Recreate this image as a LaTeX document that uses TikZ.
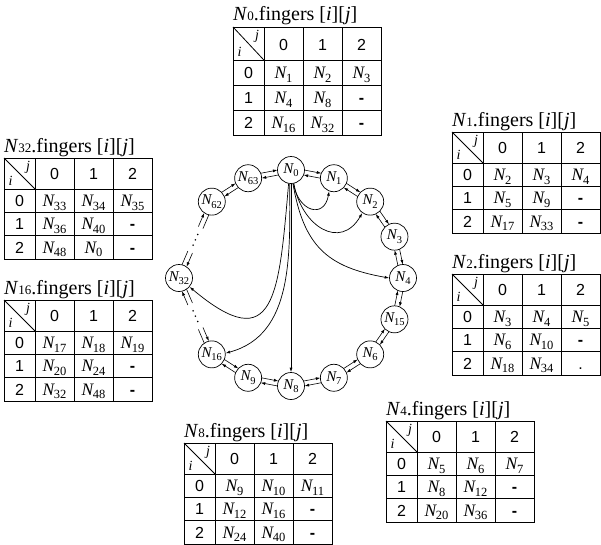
\documentclass[tikz,border=0pt]{standalone}
\usepackage{fontspec}
\setmainfont{Liberation Serif}
\setsansfont{Liberation Sans}
\usetikzlibrary{calc,arrows.meta}
\newcommand\NN[1]{\textit{N}\kern-0.06em\raisebox{-0.2em}{\fontsize{12.5}{13}\selectfont #1}}
\newcommand\RN[1]{\textit{N}\kern-0.06em\raisebox{-0.22em}{\fontsize{10.5}{11}\selectfont #1}}
\newcommand\fingertab[9]{%
  \node[ttl] (T#1t) at (0,-6) {\textit{N}{\fontsize{13}{13}\selectfont #1}.fingers [\textit{i}][\textit{j}]};
  \draw[tabline] (0,0) rectangle (148,101);
  \foreach \yy in {31,54.3,77.6} \draw[tabline] (0,\yy) -- (148,\yy);
  \foreach \xx in {31,70,109} \draw[tabline] (\xx,0) -- (\xx,101);
  \draw[tabline] (0,0) -- (31,31);
  \node[idx] (T#1j) at (24,9) {j};
  \node[idx] (T#1i) at (6.5,23) {i};
  \node[hdr] (T#1h0) at (50.5,21.5) {0};
  \node[hdr] (T#1h1) at (89.5,21.5) {1};
  \node[hdr] (T#1h2) at (128.5,21.5) {2};
  \node[hdr] (T#1r0) at (15.5,48.5) {0};
  \node[hdr] (T#1r1) at (15.5,71.8) {1};
  \node[hdr] (T#1r2) at (15.5,95.1) {2};
  \node[cell] (T#1a) at (50.5,48.5) {\NN{#2}};
  \node[cell] (T#1b) at (89.5,48.5) {\NN{#3}};
  \node[cell] (T#1c) at (128.5,48.5) {\NN{#4}};
  \node[cell] (T#1d) at (50.5,71.8) {\NN{#5}};
  \node[cell] (T#1e) at (89.5,71.8) {\NN{#6}};
  \node[hdr] (T#1f) at (128.5,71.8) {\textbf{-}};
  \node[cell] (T#1g) at (50.5,95.1) {\NN{#7}};
  \node[cell] (T#1k) at (89.5,95.1) {\NN{#8}};
  \node[hdr] (T#1l) at (128.5,95.1) {#9};
}
\newcommand\ringlink[2]{%
  \draw[ringarrow] ($(#1)!2.5pt!90:(#2)$) -- ($(#2)!2.5pt!-90:(#1)$);
  \draw[ringarrow] ($(#2)!2.5pt!90:(#1)$) -- ($(#1)!2.5pt!-90:(#2)$);}
\newcommand\ringgap[2]{%
  \coordinate (ga) at ($(#1)!2.5pt!90:(#2)$);
  \coordinate (gb) at ($(#2)!2.5pt!-90:(#1)$);
  \draw[ringline, shorten <=13.3pt] (ga) -- ($(ga)!0.34!(gb)$);
  \draw[ringarrow, shorten <=0pt] ($(ga)!0.66!(gb)$) -- (gb);
  \coordinate (gc) at ($(#2)!2.5pt!90:(#1)$);
  \coordinate (gd) at ($(#1)!2.5pt!-90:(#2)$);
  \draw[ringline, shorten <=13.3pt] (gc) -- ($(gc)!0.34!(gd)$);
  \draw[ringarrow, shorten <=0pt] ($(gc)!0.66!(gd)$) -- (gd);
  \foreach \t in {0.43,0.5,0.57} \fill ($(#1)!\t!(#2)$) circle (0.9pt);}
\begin{document}
\begin{tikzpicture}[x=1pt,y=-1pt,
  tabline/.style={line width=0.8pt},
  hdr/.style={font=\fontsize{16}{16}\sffamily, inner sep=0, anchor=base},
  cell/.style={font=\fontsize{17.5}{17.5}\selectfont, inner sep=0, anchor=base},
  idx/.style={font=\fontsize{14}{14}\selectfont\itshape, inner sep=0},
  ttl/.style={font=\fontsize{20}{20}\selectfont, inner sep=0, anchor=base west},
  ringnode/.style={circle, draw, line width=0.7pt, minimum size=27pt, inner sep=0, font=\fontsize{15}{15}\selectfont},
  ringline/.style={line width=0.6pt},
  ringarrow/.style={line width=0.6pt, -{Latex[length=4.5pt,width=3pt]}, shorten <=13.3pt, shorten >=13.3pt},
  chord/.style={line width=0.7pt, -{Latex[length=4.5pt,width=3pt]}},
]
\useasboundingbox (0,0) rectangle (601,544);
% tables
\begin{scope}[shift={(233,27)}, yscale=1.07]\fingertab{0}{1}{2}{3}{4}{8}{16}{32}{\textbf{-}}\end{scope}
\begin{scope}[shift={(452,132)}]\fingertab{1}{2}{3}{4}{5}{9}{17}{33}{\textbf{-}}\end{scope}
\begin{scope}[shift={(452,274)}]\fingertab{2}{3}{4}{5}{6}{10}{18}{34}{.}\end{scope}
\begin{scope}[shift={(4,158)}]\fingertab{32}{33}{34}{35}{36}{40}{48}{0}{\textbf{-}}\end{scope}
\begin{scope}[shift={(4,300)}]\fingertab{16}{17}{18}{19}{20}{24}{32}{48}{\textbf{-}}\end{scope}
\begin{scope}[shift={(386,421)}]\fingertab{4}{5}{6}{7}{8}{12}{20}{36}{\textbf{-}}\end{scope}
\begin{scope}[shift={(184,443)}]\fingertab{8}{9}{10}{11}{12}{16}{24}{40}{\textbf{-}}\end{scope}
% ring nodes
\foreach \nm/\lab/\ang in {n0/0/0, n1/1/22.5, n2/2/45, n3/3/67.5, n4/4/90, n15/15/112.5, n6/6/135, n7/7/157.5, n8/8/180, n9/9/202.5, n16/16/225, n32/32/270, n62/62/315, n63/63/337.5}
  \node[ringnode] (\nm) at ({291+112*sin(\ang)},{278-108*cos(\ang)}) {\RN{\lab}};
% ring links
\ringlink{n0}{n1}\ringlink{n1}{n2}\ringlink{n2}{n3}\ringlink{n3}{n4}
\ringlink{n4}{n15}\ringlink{n15}{n6}\ringlink{n6}{n7}\ringlink{n7}{n8}
\ringlink{n8}{n9}\ringlink{n9}{n16}\ringlink{n62}{n63}\ringlink{n63}{n0}
\ringgap{n16}{n32}\ringgap{n32}{n62}
% fingers of N0
\draw[chord] (n0.-80) to[out=-80,in=-100,looseness=2] (n1.-110);
\draw[chord] (n0.-78) to[out=-80,in=-120,looseness=1.5] (n2.-125);
\draw[chord] (n0.-82) to[out=-80,in=170,looseness=1.2] (n4.180);
\draw[chord] (n0) -- (n8);
\draw[chord] (n0.-95) to[out=-90,in=15] (n16.5);
\draw[chord] (n0.-100) to[out=-95,in=-40,looseness=2] (n32.-40);
\end{tikzpicture}
\end{document}
